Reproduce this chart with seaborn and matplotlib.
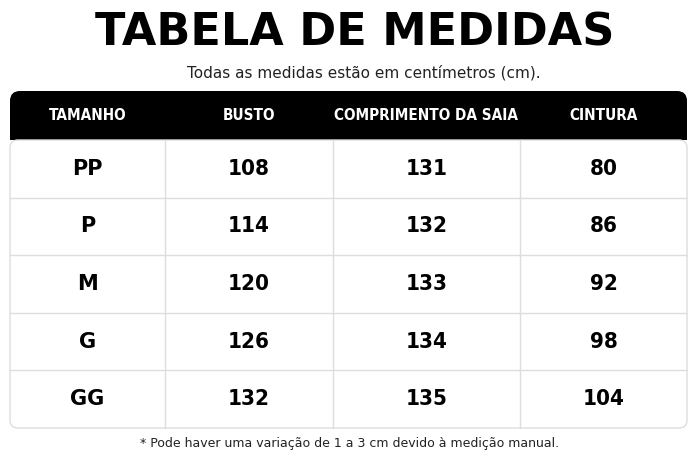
import matplotlib
matplotlib.use("Agg")
import matplotlib.pyplot as plt
from matplotlib.patches import FancyBboxPatch, Rectangle
import seaborn as sns

sns.set_theme(style="white")

title = "TABELA DE MEDIDAS"
subtitle = "Todas as medidas estão em centímetros (cm)."
footer = "* Pode haver uma variação de 1 a 3 cm devido à medição manual."
headers = ["TAMANHO", "BUSTO", "COMPRIMENTO DA SAIA", "CINTURA"]
sizes = ["PP", "P", "M", "G", "GG"]
busto = [108, 114, 120, 126, 132]
saia = [131, 132, 133, 134, 135]
cintura = [80, 86, 92, 98, 104]

col_edges = [10, 165, 333, 520, 687]
head_top, head_bot = 91, 140
row_h = 57.6
narrow = ["DejaVu Sans"]

fig = plt.figure(figsize=(7, 4.67), dpi=100)
ax = fig.add_axes([0, 0, 1, 1])
ax.set_xlim(0, 700)
ax.set_ylim(467, 0)
ax.axis("off")

ax.text(355, 33, title, ha="center", va="center", fontsize=32, fontweight="heavy",
        family="DejaVu Sans", color="black")
ax.text(364, 73, subtitle, ha="center", va="center", fontsize=11, color="#222222")

# header
ax.add_patch(FancyBboxPatch((10, head_top), 677, head_bot - head_top,
                            boxstyle="round,pad=0,rounding_size=10", fc="black", ec="none"))
ax.add_patch(Rectangle((10, head_top + 15), 677, head_bot - head_top - 15, fc="black", ec="none"))
for i, h in enumerate(headers):
    cx = (col_edges[i] + col_edges[i + 1]) / 2
    ax.text(cx, (head_top + head_bot) / 2, h, ha="center", va="center", color="white",
            fontsize=11, fontweight="bold", fontstretch="condensed", family=narrow)

# body
bottom = head_bot + row_h * len(sizes)
ax.add_patch(FancyBboxPatch((10, head_bot), 677, bottom - head_bot,
                            boxstyle="round,pad=0,rounding_size=8", fc="white", ec="#dddddd", lw=1))
for r in range(1, len(sizes)):
    y = head_bot + r * row_h
    ax.plot([10, 687], [y, y], color="#dddddd", lw=1)
for x in col_edges[1:-1]:
    ax.plot([x, x], [head_bot, bottom], color="#dddddd", lw=1)

for r, s in enumerate(sizes):
    cy = head_bot + (r + 0.5) * row_h
    vals = [s, busto[r], saia[r], cintura[r]]
    for c, v in enumerate(vals):
        cx = (col_edges[c] + col_edges[c + 1]) / 2
        if c == 0:
            ax.text(cx, cy, v, ha="center", va="center", fontsize=15, fontweight="bold",
                    family="DejaVu Sans", color="black")
        else:
            ax.text(cx, cy, str(v), ha="center", va="center", fontsize=16, fontweight="bold",
                    fontstretch="condensed", family=narrow, color="black")

ax.text(350, 443, footer, ha="center", va="center", fontsize=9, color="#222222")

fig.savefig("out.png", dpi=100, facecolor="white")
